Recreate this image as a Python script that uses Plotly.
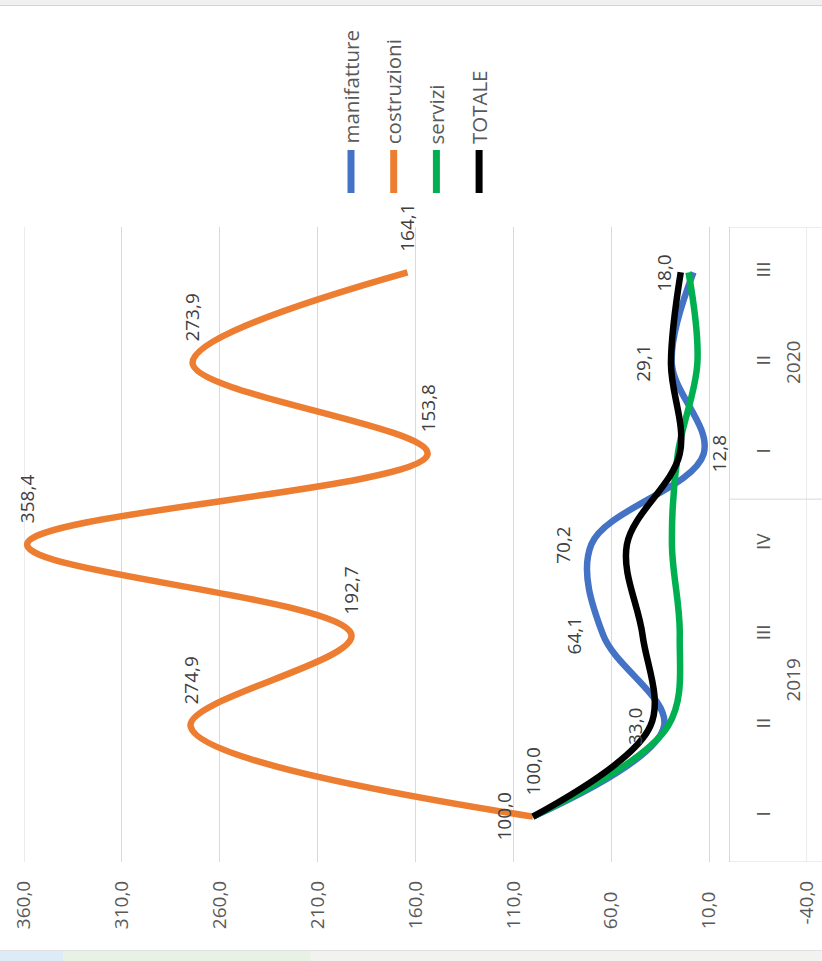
import plotly.graph_objects as go

# ---------------- data ----------------
quarters = ["I", "II", "III", "IV", "I", "II", "III"]
year_of_point = ["2019", "2019", "2019", "2019", "2020", "2020", "2020"]
series_names = ["manifatture", "costruzioni", "servizi", "TOTALE"]
manifatture = [100.0, 33.0, 64.1, 70.2, 12.8, 29.1, 18.0]
costruzioni = [100.0, 274.9, 192.7, 358.4, 153.8, 273.9, 164.1]
servizi = [100.0, 31.0, 25.0, 29.0, 26.0, 16.0, 20.5]
totale = [100.0, 40.0, 44.0, 52.0, 25.0, 29.5, 24.5]
value_ticks = [360, 310, 260, 210, 160, 110, 60, 10, -40]
value_tick_labels = ["360,0", "310,0", "260,0", "210,0", "160,0", "110,0", "60,0", "10,0", "-40,0"]

# ---------------- styling ----------------
W, H = 822, 961
L, R, T, B = 24, 15, 227, 99
PW, PH = W - L - R, H - T - B
FONT = "Open Sans"
GRID = "#d9d9d9"
TXT = "#595959"
LBL = "#404040"
colors = {"manifatture": "#4472C4", "costruzioni": "#ED7D31",
          "servizi": "#00B050", "TOTALE": "#000000"}
series_values = {"manifatture": manifatture, "costruzioni": costruzioni,
                 "servizi": servizi, "TOTALE": totale}
x_range = [360, -40]
idx = list(range(len(quarters)))


def px_x(px):
    return (px - L) / PW


def px_y(py):
    return (H - B - py) / PH


fig = go.Figure()
for name in series_names:
    fig.add_trace(go.Scatter(
        x=series_values[name], y=idx, mode="lines", name=name,
        line=dict(color=colors[name], width=6.5, shape="spline", smoothing=1.0),
        cliponaxis=False, showlegend=False, hoverinfo="skip"))

annotations = []
shapes = []

# edge gridlines (Plotly omits gridlines at the range ends)
for v in (value_ticks[0], value_ticks[-1]):
    shapes.append(dict(type="line", xref="x", yref="paper", x0=v, x1=v, y0=0, y1=1,
                       line=dict(color=GRID, width=1), layer="below"))

# data labels (placement: 'up' = original right, 'left' = original above, 'right' = original below)
placements = {
    "costruzioni": ["left", "up", "up", "up", "up", "up", "up"],
    "manifatture": ["up", "left", "left", "left", "right", "left", "left"],
}
for name, places in placements.items():
    vals = series_values[name]
    for k, (v, p) in enumerate(zip(vals, places)):
        txt = f"{v:.1f}".replace(".", ",")
        a = dict(x=v, y=k, xref="x", yref="y", text=txt, showarrow=False,
                 textangle=-90, font=dict(family=FONT, size=19, color=LBL))
        if p == "up":
            a.update(xanchor="center", yanchor="bottom", yshift=19)
        elif p == "left":
            a.update(xanchor="center", yanchor="middle", xshift=-29)
        else:
            a.update(xanchor="center", yanchor="middle", xshift=15)
        annotations.append(a)

# year labels + group box lines
frac0 = (x_range[0] - 0) / (x_range[0] - x_range[1])
years = []
for yv in year_of_point:
    if yv not in years:
        years.append(yv)
bounds = [-0.5]
for yv in years:
    ks = [k for k in idx if year_of_point[k] == yv]
    annotations.append(dict(x=px_x(793), y=sum(ks) / len(ks), xref="paper", yref="y",
                            text=yv, showarrow=False, textangle=-90,
                            xanchor="center", yanchor="middle",
                            font=dict(family=FONT, size=19, color=TXT)))
    bounds.append(max(ks) + 0.5)
for b in bounds:
    shapes.append(dict(type="line", xref="paper", yref="y", x0=frac0, x1=px_x(W),
                       y0=b, y1=b, line=dict(color=GRID, width=1)))

# legend (rotated, drawn manually)
for i, name in enumerate(series_names):
    cx = 351 + i * 42.7
    shapes.append(dict(type="line", xref="paper", yref="paper",
                       x0=px_x(cx), x1=px_x(cx), y0=px_y(193), y1=px_y(150),
                       line=dict(color=colors[name], width=7)))
    annotations.append(dict(x=px_x(cx), y=px_y(146), xref="paper", yref="paper",
                            text=name, showarrow=False, textangle=-90,
                            xanchor="center", yanchor="bottom",
                            font=dict(family=FONT, size=20.5, color=TXT)))

# screenshot frame bands
shapes += [
    dict(type="rect", xref="paper", yref="paper", x0=px_x(0), x1=px_x(W), y0=px_y(0), y1=px_y(5),
         fillcolor="#f0f0f0", line=dict(width=0), layer="below"),
    dict(type="line", xref="paper", yref="paper", x0=px_x(0), x1=px_x(W), y0=px_y(5.5), y1=px_y(5.5),
         line=dict(color="#d4d4d4", width=1)),
    dict(type="rect", xref="paper", yref="paper", x0=px_x(0), x1=px_x(W), y0=px_y(951), y1=px_y(H),
         fillcolor="#f2f2f0", line=dict(width=0), layer="below"),
    dict(type="rect", xref="paper", yref="paper", x0=px_x(0), x1=px_x(63), y0=px_y(951), y1=px_y(H),
         fillcolor="#dcebf7", line=dict(width=0), layer="below"),
    dict(type="rect", xref="paper", yref="paper", x0=px_x(63), x1=px_x(310), y0=px_y(951), y1=px_y(H),
         fillcolor="#e7f2e5", line=dict(width=0), layer="below"),
    dict(type="line", xref="paper", yref="paper", x0=px_x(0), x1=px_x(W), y0=px_y(950.5), y1=px_y(950.5),
         line=dict(color="#e0e0e0", width=1)),
]

maxlen = max(len(s) for s in value_tick_labels)
padded = [s + "\u2007" * (maxlen - len(s)) for s in value_tick_labels]

fig.update_layout(
    width=W, height=H, margin=dict(l=L, r=R, t=T, b=B, pad=0, autoexpand=False),
    paper_bgcolor="white", plot_bgcolor="white", showlegend=False,
    font=dict(family=FONT, color=TXT),
    xaxis=dict(range=x_range, tickvals=value_ticks, ticktext=padded, tickangle=-90,
               showgrid=True, gridcolor=GRID, gridwidth=1, zeroline=False,
               showline=False, ticks="", ticklabelstandoff=14, automargin=False,
               tickfont=dict(family=FONT, size=19, color=TXT)),
    yaxis=dict(range=[-0.5, len(quarters) - 0.5], tickvals=idx, ticktext=quarters,
               tickangle=-90, side="right", anchor="free", position=frac0,
               showgrid=False, zeroline=False, showline=True, linecolor=GRID, linewidth=1,
               ticks="", ticklabelstandoff=17, automargin=False,
               tickfont=dict(family=FONT, size=19, color=TXT)),
    annotations=annotations, shapes=shapes,
)

fig.write_html("out.html", config={"displayModeBar": False, "staticPlot": True},
               post_script="document.body.style.margin='0';document.body.style.overflow='hidden';")
